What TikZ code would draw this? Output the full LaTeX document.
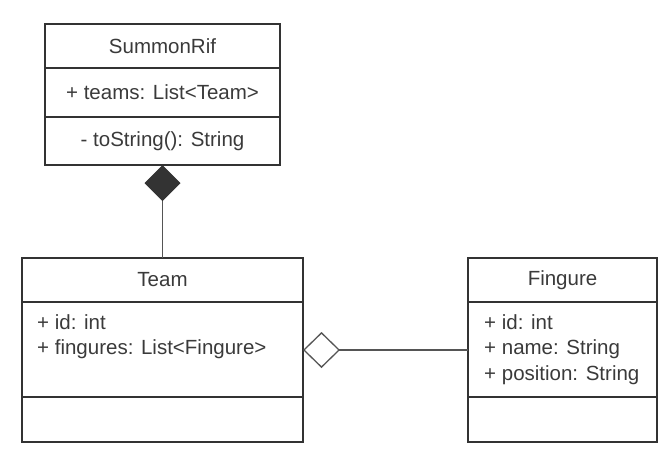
\documentclass[tikz,border=0pt]{standalone}
\usepackage{fontspec}
\setmainfont{Liberation Sans}
\usetikzlibrary{arrows.meta,positioning}
\definecolor{ink}{HTML}{333333}
\definecolor{txt}{HTML}{3A3A3A}
\definecolor{wire}{HTML}{555555}
\tikzset{
  cell/.style={draw=ink, line width=2pt, rectangle, inner sep=0pt, outer sep=0pt, text=txt, font=\fontsize{20.5}{24}\selectfont},
  attr/.style={anchor=base west, inner sep=0pt, text=txt, font=\fontsize{20.5}{24}\selectfont},
  link/.style={draw=wire, line width=1.1pt},
}
\begin{document}
\begin{tikzpicture}[x=1pt,y=-1pt]
\useasboundingbox (0,0) rectangle (672,459);
% SummonRif
\node[cell, minimum width=235pt, minimum height=44pt, anchor=north west] (srT) at (45,24) {SummonRif};
\node[cell, minimum width=235pt, minimum height=49pt, anchor=north] (srA) at (srT.south) {+ teams: List<Team>};
\node[cell, minimum width=235pt, minimum height=48pt, anchor=north] (srO) at (srA.south) {- toString(): String};
% Team
\node[cell, minimum width=281pt, minimum height=44pt, anchor=north west] (tmT) at (22,258) {Team};
\node[cell, minimum width=281pt, minimum height=95pt, anchor=north] (tmA) at (tmT.south) {};
\node[cell, minimum width=281pt, minimum height=45pt, anchor=north] (tmO) at (tmA.south) {};
\node[attr] (tm1) at (37,329) {+ id: int};
\node[attr] (tm2) at (37,354) {+ fingures: List<Fingure>};
% Fingure
\node[cell, minimum width=189pt, minimum height=44pt, anchor=north west] (fgT) at (468,258) {Fingure};
\node[cell, minimum width=189pt, minimum height=95pt, anchor=north] (fgA) at (fgT.south) {};
\node[cell, minimum width=189pt, minimum height=45pt, anchor=north] (fgO) at (fgA.south) {};
\node[attr] (fg1) at (484,329) {+ id: int};
\node[attr] (fg2) at (484,354) {+ name: String};
\node[attr] (fg3) at (484,380) {+ position: String};
% connectors
\coordinate (tmE) at (303,350);
\coordinate (fgW) at (468,350);
\draw[link, -{Diamond[length=36pt,width=36pt,fill=ink,color=ink]}] (tmT.north) -- (srO.south);
\draw[link, -{Diamond[length=37pt,width=36pt,open,color=wire,line width=1.3pt]}] (fgW) -- (tmE);
\end{tikzpicture}
\end{document}
